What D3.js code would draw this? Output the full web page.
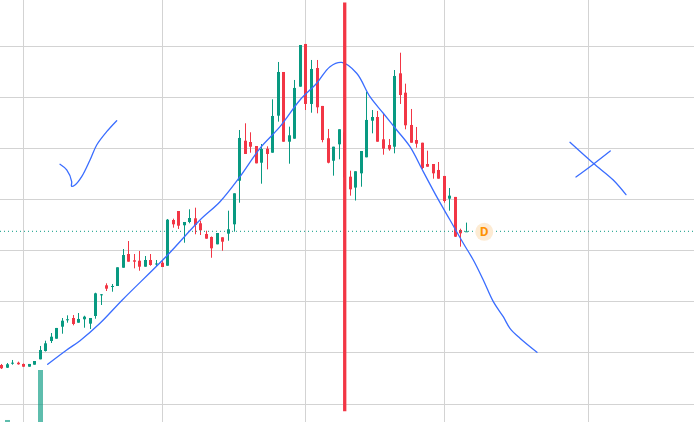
<!DOCTYPE html>
<html>
<head>
<meta charset="utf-8">
<script src="https://cdn.jsdelivr.net/npm/d3@7"></script>
<style>
  html, body { margin: 0; padding: 0; background: #fff; overflow: hidden; }
  svg { display: block; }
</style>
</head>
<body>
<div id="chart"></div>
<script>
'use strict';

// ohlc, one entry per bar (bar index = position in array)
var opens  = [107.53,107.00,107.86,107.98,107.73,107.20,107.59,108.64,110.26,112.22,
              112.67,115.02,116.37,116.72,115.80,116.47,115.61,117.11,121.25,123.11,
              122.88,122.98,126.55,129.23,128.00,127.92,126.75,128.06,127.24,127.53,
              126.94,135.88,137.64,134.85,135.49,136.21,135.24,133.15,132.56,131.13,
              132.50,133.21,135.04,143.56,151.38,151.13,150.35,147.08,149.82,149.04,
              156.28,164.82,151.19,151.78,161.95,170.30,158.57,165.60,158.18,151.86,
              147.47,150.68,153.00,144.35,142.22,145.01,148.14,155.30,156.02,151.66,
              150.55,150.21,164.56,160.77,154.46,151.52,150.99,146.83,146.83,145.66,
              144.49,140.05,140.39,133.93,133.60];
var highs  = [107.73,107.92,108.51,108.18,107.82,107.73,108.31,111.25,112.28,113.78,
              114.77,116.72,117.24,117.30,117.69,117.16,116.72,121.66,121.41,123.50,
              123.37,126.63,130.21,131.77,129.23,129.82,128.84,129.23,128.06,128.06,
              136.08,136.14,137.64,135.49,137.97,138.29,135.74,133.79,132.66,133.34,
              132.50,137.70,141.10,153.48,154.79,153.03,150.35,150.74,150.29,159.48,
              166.78,164.82,154.13,163.26,170.10,170.30,167.17,167.17,158.18,153.68,
              150.21,153.62,154.00,145.52,145.41,149.37,160.97,157.39,157.20,156.61,
              151.72,165.21,168.59,162.54,157.59,154.07,150.99,149.43,146.83,147.22,
              144.49,142.14,140.39,134.18,135.37];
var lows   = [106.75,106.95,107.59,107.59,107.14,107.20,107.59,108.64,110.17,111.83,
              112.67,113.65,115.80,115.29,115.80,114.82,114.57,116.58,119.26,122.00,
              121.86,122.98,126.55,127.73,126.43,125.96,126.75,126.94,126.88,126.69,
              126.94,134.38,134.13,131.44,135.24,133.09,132.95,132.23,128.50,131.13,
              129.87,131.83,133.60,139.26,148.79,149.04,146.96,142.98,145.79,149.04,
              155.11,151.19,146.89,151.78,161.95,157.39,156.86,156.74,151.07,146.96,
              144.55,147.75,142.50,140.64,139.69,142.39,148.14,152.83,151.19,148.65,
              149.43,148.92,158.57,153.62,150.99,150.02,145.85,146.30,143.96,143.96,
              139.26,137.70,132.56,130.67,133.60];
var closes = [106.89,107.67,107.98,107.67,107.20,107.73,108.31,110.46,111.77,113.06,
              114.77,116.19,116.47,115.55,116.53,116.98,116.72,121.54,121.35,122.45,
              122.98,126.63,129.03,127.73,127.73,126.75,128.06,127.08,127.38,126.69,
              135.94,135.04,134.77,135.49,136.27,134.91,133.87,132.23,130.35,133.34,
              131.64,134.06,141.10,151.92,148.79,150.21,146.96,149.76,148.79,156.22,
              164.82,151.19,152.44,161.70,170.10,158.57,165.41,157.92,151.52,147.08,
              150.21,153.62,144.20,141.88,145.41,149.37,155.44,156.02,151.19,149.82,
              149.71,164.04,160.32,154.40,150.99,150.80,146.05,146.30,145.01,143.96,
              139.59,140.64,132.62,133.28,133.67];

// volume: only two bars reach into the visible area
var volumes = [0,51,0,0,0,0,0,100];

// grid
var priceTicks = [90,100,110,120,130,140,150,160,170,180];
var timeTicks = [4,29,55,80,106];

// drawn annotations (bar index / price)
var curveIdx   = [8.44,11.87,14.27,17.88,21.91,29.93,35.95,39.56,43.17,46.78,50.40,54.01,57.03,59.43,61.54,
                  64.25,66.65,69.06,71.48,73.88,76.28,78.70,81.11,83.51,85.32,87.12,88.93,90.73,91.94,93.75,96.82];
var curvePrice = [107.67,110.46,112.28,115.68,120.24,128.84,135.88,139.46,144.35,149.90,154.13,159.35,162.61,165.86,166.68,
                  164.57,159.99,156.75,153.48,150.21,145.33,140.44,135.88,131.33,128.06,124.15,119.91,116.97,114.70,112.75,110.01];

var checkIdx   = [10.66,11.87,12.77,12.74,13.37,14.58,16.08,17.29,19.09,20.90];
var checkPrice = [146.77,145.66,143.37,142.47,142.72,144.35,147.61,150.55,153.15,155.30];

var cross1Idx   = [102.78,107.0,110.6,112.9];
var cross1Price = [151.07,146.97,143.70,140.83];
var cross2Idx   = [103.86,107.0,110.06];
var cross2Price = [144.29,146.8,149.37];

var vLineIdx = 62, vLineTop = 178.4, vLineBottom = 98.5;
var dMarkerIdx = 87.3;

var upColor = '#089981', downColor = '#f23645';

var width = 694, height = 422;

var svg = d3.select('#chart').append('svg')
    .attr('width', width).attr('height', height);

svg.append('rect').attr('width', width).attr('height', height).attr('fill', '#fff');

var x = d3.scaleLinear().domain([0, 84]).range([1, 466]);
var y = d3.scaleLinear().domain([100, 170]).range([403.5, 45.5]);
var vy = d3.scaleLinear().domain([0, 100]).range([472, 370]);

// gridlines
var gy = svg.append('g')
    .call(d3.axisRight(y).tickValues(priceTicks).tickSize(width).tickFormat(''));
gy.select('.domain').remove();
gy.selectAll('line').attr('stroke', '#d3d3d3').attr('shape-rendering', 'crispEdges');

var gx = svg.append('g')
    .call(d3.axisBottom(x).tickValues(timeTicks).tickSize(height).tickFormat(''));
gx.select('.domain').remove();
gx.selectAll('line').attr('stroke', '#d3d3d3').attr('shape-rendering', 'crispEdges');

// volume
svg.append('g').selectAll('rect')
    .data(volumes)
    .enter().append('rect')
      .attr('x', function(d, i) { return Math.round(x(i)) - 2; })
      .attr('width', 5)
      .attr('y', function(d) { return vy(d); })
      .attr('height', function(d) { return Math.max(0, vy(0) - vy(d)); })
      .attr('fill', upColor)
      .attr('fill-opacity', 0.65);

// candles
var bars = d3.range(opens.length).map(function(i) {
    return { i: i, o: opens[i], h: highs[i], l: lows[i], c: closes[i] };
});

var candle = svg.append('g').selectAll('g')
    .data(bars)
    .enter().append('g')
      .attr('fill', function(d) { return d.c >= d.o ? upColor : downColor; });

candle.append('rect')
    .attr('x', function(d) { return Math.round(x(d.i)); })
    .attr('width', 1)
    .attr('y', function(d) { return y(d.h); })
    .attr('height', function(d) { return y(d.l) - y(d.h); });

candle.append('rect')
    .attr('x', function(d) { return Math.round(x(d.i)) - 1; })
    .attr('width', 3)
    .attr('y', function(d) { return y(Math.max(d.o, d.c)); })
    .attr('height', function(d) { return Math.max(1, Math.abs(y(d.o) - y(d.c))); });

// last price line
var last = closes[closes.length - 1];
svg.append('line')
    .attr('x1', 0).attr('x2', width)
    .attr('y1', y(last)).attr('y2', y(last))
    .attr('stroke', upColor)
    .attr('stroke-width', 1)
    .attr('stroke-dasharray', '1,3');

// brush drawings
var line = d3.line()
    .x(function(d) { return x(d[0]); })
    .y(function(d) { return y(d[1]); })
    .curve(d3.curveCatmullRom);

function drawPath(idx, price) {
    svg.append('path')
        .datum(d3.zip(idx, price))
        .attr('d', line)
        .attr('fill', 'none')
        .attr('stroke', '#3a6dff')
        .attr('stroke-width', 1.3)
        .attr('stroke-linecap', 'round')
        .attr('stroke-linejoin', 'round');
}

drawPath(curveIdx, curvePrice);
drawPath(checkIdx, checkPrice);
drawPath(cross1Idx, cross1Price);
drawPath(cross2Idx, cross2Price);

// vertical line
svg.append('line')
    .attr('x1', x(vLineIdx) + 0.5).attr('x2', x(vLineIdx) + 0.5)
    .attr('y1', y(vLineTop)).attr('y2', y(vLineBottom))
    .attr('stroke', downColor)
    .attr('stroke-width', 3.3);

// dividend marker
var marker = svg.append('g')
    .attr('transform', 'translate(' + x(dMarkerIdx) + ',' + (y(last) + 0.5) + ')');
marker.append('circle').attr('r', 9).attr('fill', '#fdebd3');
marker.append('text')
    .attr('text-anchor', 'middle')
    .attr('dy', '0.36em')
    .attr('font-family', 'Roboto, sans-serif')
    .attr('font-weight', 'bold')
    .attr('font-size', 13)
    .attr('fill', '#ff9100')
    .text('D');
</script>
</body>
</html>
